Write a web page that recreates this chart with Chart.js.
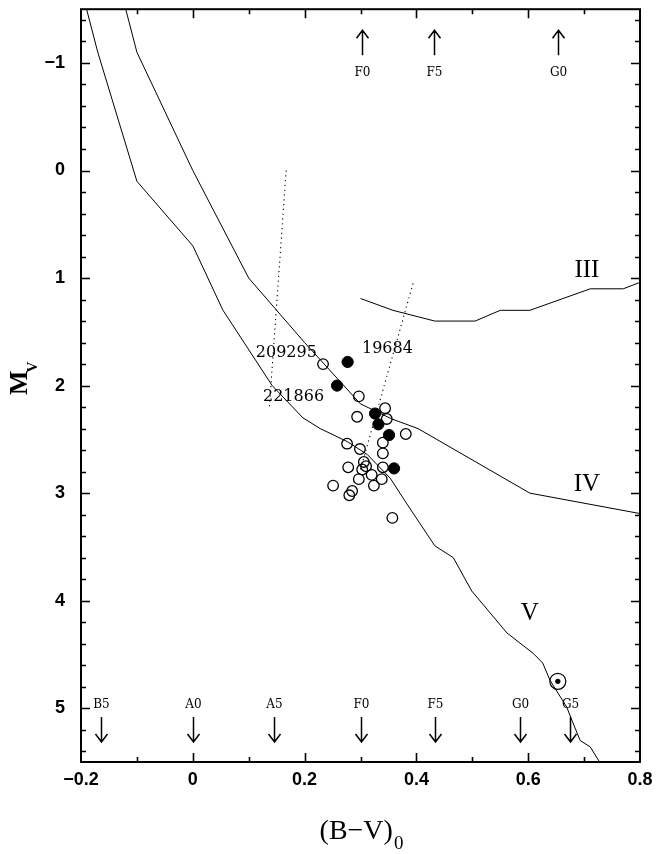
<!DOCTYPE html>
<html>
<head>
<meta charset="utf-8">
<script src="https://cdn.jsdelivr.net/npm/chart.js@4/dist/chart.umd.min.js"></script>
<style>
  html, body { margin: 0; padding: 0; background: #fff; }
  canvas { display: block; }
</style>
</head>
<body>
<canvas id="hr" width="657" height="854"></canvas>
<script>
// Axis ticks
const xTicks = [-0.2, 0, 0.2, 0.4, 0.6, 0.8];
const yTicks = [-1, 0, 1, 2, 3, 4, 5];

// Luminosity-class sequences: [(B-V)0, Mv]
const seqV = [[-0.19,-1.5],[-0.17,-1.1],[-0.1,0.1],[0,0.7],[0.054,1.3],[0.142,2.0],[0.197,2.3],
  [0.228,2.4],[0.276,2.52],[0.312,2.64],[0.353,2.86],[0.383,3.1],[0.433,3.49],[0.466,3.6],
  [0.499,3.91],[0.562,4.3],[0.609,4.49],[0.626,4.58],[0.639,4.74],[0.669,4.99],[0.678,5.11],
  [0.693,5.3],[0.711,5.36],[0.73,5.52]];
const seqIV = [[-0.125,-1.6],[-0.1,-1.1],[0,0],[0.1,1.0],[0.2,1.6],[0.3,2.17],[0.356,2.31],
  [0.403,2.4],[0.603,3.0],[0.8,3.19]];
const seqIII = [[0.3,1.19],[0.358,1.3],[0.433,1.4],[0.505,1.4],[0.55,1.3],[0.603,1.3],
  [0.711,1.1],[0.77,1.1],[0.8,1.04]];

// Dotted tracks
const track1 = [[0.167,0.0],[0.137,2.2]];
const track2 = [[0.394,1.05],[0.30,2.78]];

// Programme stars
const openStars = [[0.233,1.80],[0.297,2.10],[0.344,2.21],[0.294,2.29],[0.347,2.31],[0.381,2.45],
  [0.340,2.53],[0.276,2.54],[0.299,2.59],[0.340,2.63],[0.306,2.71],[0.310,2.75],[0.303,2.78],
  [0.278,2.76],[0.340,2.76],[0.320,2.83],[0.338,2.87],[0.297,2.87],[0.324,2.93],[0.251,2.93],
  [0.285,2.98],[0.280,3.02],[0.357,3.23]];
const filledStars = [[0.277,1.78],[0.258,2.00],[0.326,2.26],[0.332,2.36],[0.351,2.46],[0.360,2.77]];
const sun = [[0.653,4.75]];

// Spectral-type markers
const spectralBottom = ['B5','A0','A5','F0','F5','G0','G5'];
const spectralBottomBV = [-0.165, 0, 0.145, 0.30, 0.433, 0.585, 0.675];
const spectralTop = ['F0','F5','G0'];
const spectralTopBV = [0.303, 0.431, 0.653];

// Sequence names and star identifiers
const classLabels = ['III','IV','V'];
const classLabelPos = [[0.705,0.93],[0.705,2.92],[0.603,4.12]];
const starNames = ['209295','221866','19684'];
const starNamePos = [[0.222,1.70],[0.1256,2.10],[0.3027,1.66]];
const starNameAlign = ['right','left','left'];

const pts = a => a.map(([x, y]) => ({x, y}));
const curve = a => ({data: pts(a), showLine: true, pointRadius: 0, borderColor: '#000',
  borderWidth: 1, fill: false, tension: 0});
const dotted = a => ({data: pts(a), showLine: true, pointRadius: 0, borderColor: '#000',
  borderWidth: 1.1, borderDash: [1.2, 3.6], fill: false, tension: 0});
const fmt = v => (v < 0 ? '\u2212' + Math.abs(v) : String(v));

const frameAndNotes = {
  id: 'frameAndNotes',
  afterDraw(chart) {
    const {ctx, chartArea: a, scales: {x, y}} = chart;
    ctx.save();
    ctx.strokeStyle = '#000';
    ctx.fillStyle = '#000';

    // frame
    ctx.lineWidth = 2;
    ctx.strokeRect(a.left, a.top, a.right - a.left, a.bottom - a.top);

    // inward tick marks on all four sides
    ctx.lineWidth = 1.6;
    ctx.beginPath();
    for (let k = -7; k <= 27; k++) {
      const py = Math.round(y.getPixelForValue(k * 0.2)) + 0.5;
      const len = (k % 5 === 0) ? 9 : 5;
      ctx.moveTo(a.left, py); ctx.lineTo(a.left + len, py);
      ctx.moveTo(a.right, py); ctx.lineTo(a.right - len, py);
    }
    for (let k = -1; k <= 7; k++) {
      const px = Math.round(x.getPixelForValue(k * 0.1)) + 0.5;
      const len = (k % 2 === 0) ? 9 : 5;
      ctx.moveTo(px, a.bottom); ctx.lineTo(px, a.bottom - len);
      ctx.moveTo(px, a.top); ctx.lineTo(px, a.top + len);
    }
    ctx.stroke();

    // spectral-type arrows
    const arrow = (px, y0, y1) => {
      const d = y1 > y0 ? 1 : -1;
      ctx.beginPath();
      ctx.moveTo(px, y0); ctx.lineTo(px, y1);
      ctx.moveTo(px - 6, y1 - d * 8); ctx.lineTo(px, y1); ctx.lineTo(px + 6, y1 - d * 8);
      ctx.stroke();
    };
    ctx.lineWidth = 1.5;
    ctx.font = '12px "DejaVu Serif"';
    ctx.textAlign = 'center';
    ctx.textBaseline = 'middle';
    spectralBottom.forEach((s, i) => {
      const px = Math.round(x.getPixelForValue(spectralBottomBV[i])) + 0.5;
      ctx.fillText(s, px, a.bottom - 57);
      arrow(px, a.bottom - 45, a.bottom - 20);
    });
    spectralTop.forEach((s, i) => {
      const px = Math.round(x.getPixelForValue(spectralTopBV[i])) + 0.5;
      ctx.fillText(s, px, a.top + 64);
      arrow(px, a.top + 46, a.top + 21);
    });

    // luminosity-class names
    ctx.font = '25px "Liberation Serif"';
    classLabels.forEach((s, i) => {
      ctx.fillText(s, x.getPixelForValue(classLabelPos[i][0]), y.getPixelForValue(classLabelPos[i][1]));
    });

    // star identifiers
    ctx.font = '16px "DejaVu Serif"';
    starNames.forEach((s, i) => {
      ctx.textAlign = starNameAlign[i];
      ctx.fillText(s, x.getPixelForValue(starNamePos[i][0]), y.getPixelForValue(starNamePos[i][1]));
    });

    // y-axis title: M_V
    ctx.save();
    ctx.translate(27, 395);
    ctx.rotate(-Math.PI / 2);
    ctx.textAlign = 'left';
    ctx.textBaseline = 'alphabetic';
    ctx.font = 'bold 26px "Liberation Serif"';
    ctx.fillText('M', 0, 0);
    const mw = ctx.measureText('M').width;
    ctx.font = 'bold 15px "Liberation Serif"';
    ctx.fillText('V', mw - 2, 10);
    ctx.restore();

    // x-axis title: (B−V)_0
    ctx.textAlign = 'left';
    ctx.textBaseline = 'alphabetic';
    ctx.font = '28px "Liberation Serif"';
    const main = '(B\u2212V)';
    const w1 = ctx.measureText(main).width;
    ctx.font = '19px "Liberation Serif"';
    const w2 = ctx.measureText('0').width;
    const x0 = 361 - (w1 + w2) / 2;
    ctx.font = '28px "Liberation Serif"';
    ctx.fillText(main, x0, 839);
    ctx.font = '19px "Liberation Serif"';
    ctx.fillText('0', x0 + w1 + 1, 849);

    ctx.restore();
  }
};

const tickFont = {family: '"Liberation Sans"', size: 18, weight: 'bold'};
const noPad = s => { s.paddingTop = 0; s.paddingBottom = 0; s.paddingLeft = 0; s.paddingRight = 0; };

new Chart(document.getElementById('hr'), {
  type: 'scatter',
  data: {
    datasets: [
      curve(seqV), curve(seqIV), curve(seqIII),
      dotted(track1), dotted(track2),
      {data: pts(openStars), pointRadius: 5.3, pointBorderWidth: 1.3,
        pointBackgroundColor: 'rgba(0,0,0,0)', pointBorderColor: '#000'},
      {data: pts(filledStars), pointRadius: 5.6, pointBorderWidth: 1,
        pointBackgroundColor: '#000', pointBorderColor: '#000'},
      {data: pts(sun), pointRadius: 8, pointBorderWidth: 1.2,
        pointBackgroundColor: 'rgba(0,0,0,0)', pointBorderColor: '#000'},
      {data: pts(sun), pointRadius: 2.6, pointBorderWidth: 0,
        pointBackgroundColor: '#000', pointBorderColor: '#000'}
    ]
  },
  options: {
    responsive: false,
    animation: false,
    devicePixelRatio: 1,
    layout: {padding: {top: 6, right: 17, left: 0, bottom: 0}},
    plugins: {legend: {display: false}, tooltip: {enabled: false}},
    scales: {
      x: {
        type: 'linear', min: -0.2, max: 0.8,
        afterBuildTicks: s => { s.ticks = xTicks.map(v => ({value: v})); },
        afterFit: s => { s.height = 92; noPad(s); },
        grid: {display: false, drawTicks: false},
        border: {display: false},
        ticks: {padding: 7, font: tickFont, color: '#000', maxRotation: 0, autoSkip: false,
          callback: v => fmt(v)}
      },
      y: {
        type: 'linear', reverse: true, min: -1.5, max: 5.5,
        afterBuildTicks: s => { s.ticks = yTicks.map(v => ({value: v})); },
        afterFit: s => { s.width = 81; noPad(s); },
        grid: {display: false, drawTicks: false},
        border: {display: false},
        ticks: {padding: 16, font: tickFont, color: '#000', autoSkip: false,
          callback: v => fmt(v)}
      }
    }
  },
  plugins: [frameAndNotes]
});
</script>
</body>
</html>
